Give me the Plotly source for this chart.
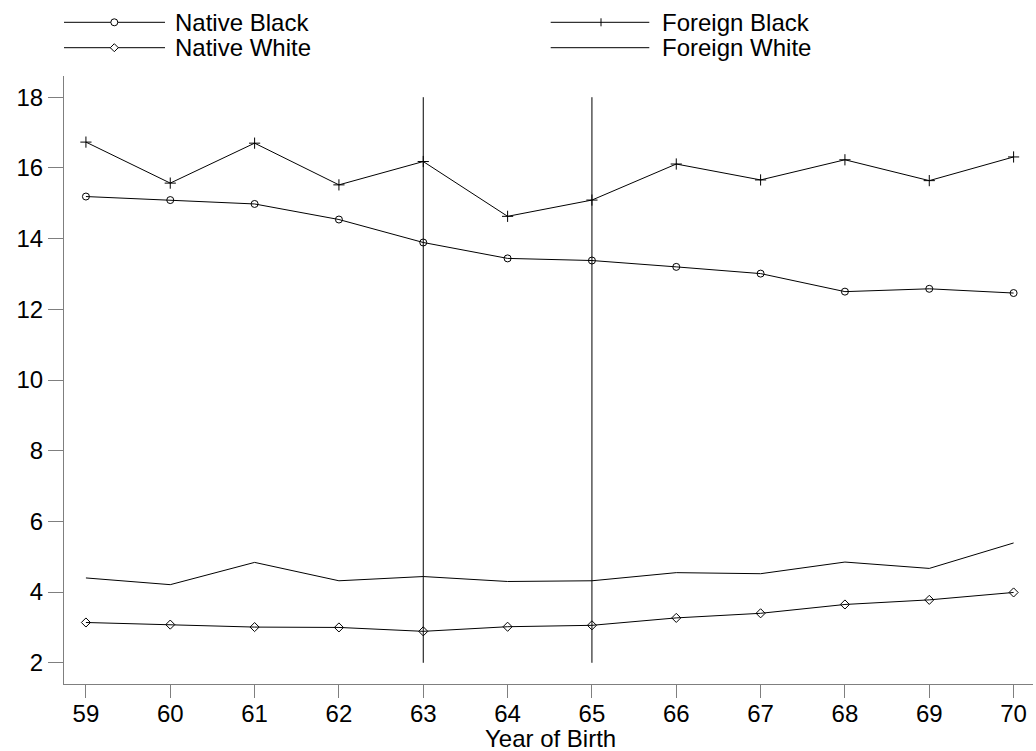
import plotly.graph_objects as go

years = [59, 60, 61, 62, 63, 64, 65, 66, 67, 68, 69, 70]
native_black = [15.19, 15.09, 14.98, 14.54, 13.89, 13.44, 13.38, 13.20, 13.01, 12.50, 12.58, 12.46]
foreign_black = [16.73, 15.57, 16.70, 15.52, 16.18, 14.63, 15.09, 16.11, 15.66, 16.23, 15.64, 16.31]
native_white = [3.14, 3.08, 3.01, 3.00, 2.89, 3.02, 3.06, 3.27, 3.40, 3.65, 3.78, 3.99]
foreign_white = [4.40, 4.21, 4.84, 4.32, 4.44, 4.30, 4.32, 4.55, 4.52, 4.85, 4.67, 5.39]
y_ticks = [2, 4, 6, 8, 10, 12, 14, 16, 18]
ref_years = [63, 65]
ref_span = [2, 18]

FONT = "Liberation Sans, Arial, sans-serif"
AXC = "#7f7f7f"

fig = go.Figure()
series = [
    ("Native Black", native_black, "circle-open", 7),
    ("Native White", native_white, "diamond-open", 7),
    ("Foreign Black", foreign_black, "cross-thin-open", 8),
    ("Foreign White", foreign_white, None, 0),
]
for name, vals, sym, sz in series:
    if sym:
        fig.add_trace(go.Scatter(x=years, y=vals, name=name, mode="lines+markers",
                                 line=dict(color="black", width=1),
                                 marker=dict(symbol=sym, size=sz, color="black",
                                             line=dict(color="black", width=1))))
    else:
        fig.add_trace(go.Scatter(x=years, y=vals, name=name, mode="lines",
                                 line=dict(color="black", width=1)))

shapes = []
for ry in ref_years:
    shapes.append(dict(type="line", xref="x", yref="y", x0=ry, x1=ry,
                       y0=ref_span[0], y1=ref_span[1],
                       line=dict(color="black", width=1)))

# manual legend (Stata style)
W, H, L, T = 969, 608, 64, 76
def px(x):
    return (x - L) / W
def py(y):
    return (T + H - y) / H

legend_items = [
    ("Native Black", "circle", 64, 165, 114.3, 173, 22.3),
    ("Native White", "diamond", 64, 165, 114.3, 173, 47.7),
    ("Foreign Black", "plus", 550.7, 649.3, 601, 660, 22.3),
    ("Foreign White", None, 550.7, 649.3, 601, 660, 47.7),
]
annotations = []
for name, sym, lx0, lx1, mx, tx, yy in legend_items:
    shapes.append(dict(type="line", xref="paper", yref="paper", x0=px(lx0), x1=px(lx1),
                       y0=py(yy), y1=py(yy), line=dict(color="black", width=1)))
    common = dict(xref="paper", yref="paper", xsizemode="pixel", ysizemode="pixel",
                  xanchor=px(mx), yanchor=py(yy), line=dict(color="black", width=1))
    if sym == "circle":
        shapes.append(dict(type="circle", x0=-3.5, x1=3.5, y0=-3.5, y1=3.5,
                           fillcolor="white", **common))
    elif sym == "diamond":
        shapes.append(dict(type="path", path="M -4,0 L 0,-4 L 4,0 L 0,4 Z",
                           fillcolor="white", **common))
    elif sym == "plus":
        shapes.append(dict(type="path", path="M 0,-4 L 0,4", **common))
    annotations.append(dict(text=name, xref="paper", yref="paper", x=px(tx), y=py(yy),
                            xanchor="left", yanchor="middle", showarrow=False,
                            font=dict(family=FONT, size=24, color="black")))

annotations.append(dict(text="Year of Birth", xref="paper", yref="paper",
                        x=px(550), y=py(738), xanchor="center", yanchor="middle",
                        showarrow=False, font=dict(family=FONT, size=24, color="black")))

fig.update_layout(
    width=1036, height=751,
    margin=dict(l=L, r=1036 - L - W, t=T, b=751 - T - H),
    paper_bgcolor="white", plot_bgcolor="white",
    showlegend=False,
    font=dict(family=FONT, size=24, color="black"),
    shapes=shapes, annotations=annotations,
    xaxis=dict(range=[58.74, 70.23], tickmode="array", tickvals=years,
               ticktext=[str(y) for y in years],
               showgrid=False, zeroline=False, showline=True, linecolor=AXC, linewidth=1,
               ticks="outside", ticklen=13, tickcolor=AXC, tickwidth=1,
               ticklabelstandoff=-5,
               tickfont=dict(family=FONT, size=24, color="black")),
    yaxis=dict(range=[1.40, 18.6], tickmode="array", tickvals=y_ticks,
               ticktext=[str(v) for v in y_ticks],
               showgrid=False, zeroline=False, showline=True, linecolor=AXC, linewidth=1,
               ticks="outside", ticklen=15, tickcolor=AXC, tickwidth=1,
               tickfont=dict(family=FONT, size=24, color="black")),
)

fig.write_html("out.html")
